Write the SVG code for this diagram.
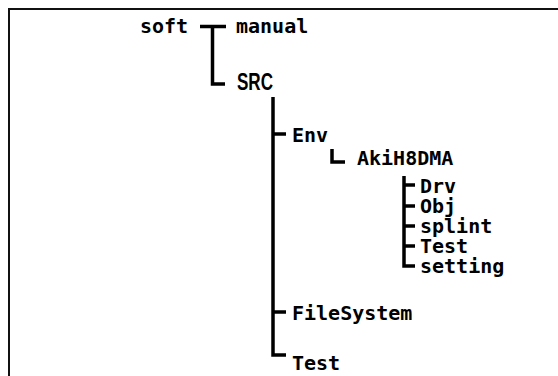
<svg xmlns="http://www.w3.org/2000/svg" width="558" height="376" viewBox="0 0 558 376">
<style>
.t{font-family:"DejaVu Sans Mono","Liberation Mono",monospace;font-size:20px;font-weight:bold;fill:#000}
.s{font-family:"Liberation Sans",Arial,sans-serif;font-size:23px;font-weight:bold;fill:#000}
.c{fill:none;stroke:#000;stroke-width:3.5}
.f{fill:none;stroke:#111;stroke-width:2}
</style>
<rect width="558" height="376" fill="#fff"/>
<path class="f" d="M9 376 V9 H558"/>
<g id="connectors">
<path class="c" d="M200 26.5 H226 M212.5 26.5 V84 H225"/>
<path class="c" d="M273 97 V355 H286 M273 134 H286 M273 312 H286"/>
<path class="c" d="M332 149 V162 H345"/>
<path class="c" d="M404 176 V266 H415 M404 185 H415 M404 206 H415 M404 226 H415 M404 246 H415"/>
</g>
<g id="soft"><text class="t" x="140" y="33">soft</text></g>
<g id="manual"><text class="t" x="236" y="33">manual</text></g>
<g id="SRC"><text class="s" x="237" y="90" textLength="36" lengthAdjust="spacingAndGlyphs">SRC</text></g>
<g id="Env"><text class="t" x="292" y="142">Env</text></g>
<g id="AkiH8DMA"><text class="t" x="357" y="165">AkiH8DMA</text></g>
<g id="Drv"><text class="t" x="420" y="193">Drv</text></g>
<g id="Obj"><text class="t" x="420" y="213">Obj</text></g>
<g id="splint"><text class="t" x="420" y="233">splint</text></g>
<g id="Test1"><text class="t" x="420" y="253">Test</text></g>
<g id="setting"><text class="t" x="420" y="273">setting</text></g>
<g id="FileSystem"><text class="t" x="292" y="320">FileSystem</text></g>
<g id="Test2"><text class="t" x="292" y="370">Test</text></g>
</svg>
